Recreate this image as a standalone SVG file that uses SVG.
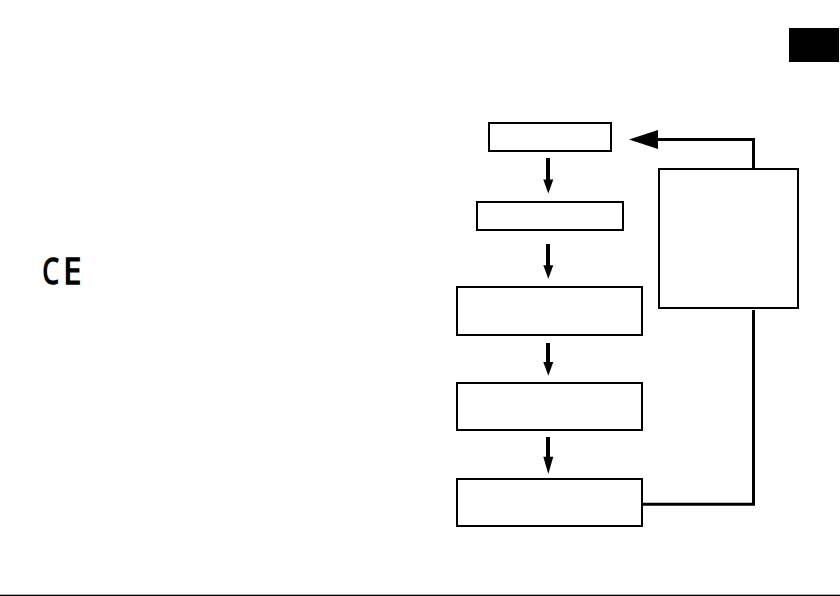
<svg xmlns="http://www.w3.org/2000/svg" width="840" height="596" viewBox="0 0 840 596">
<style>
.box{fill:#fff;stroke:#000;stroke-width:2}
.arrow{fill:none;stroke:#000;stroke-width:4}
.feedback{fill:none;stroke:#000;stroke-width:3}
.head{fill:#000}
.mark{font-family:"Open Sans","Liberation Sans",sans-serif;font-weight:400;font-size:36px;fill:#000;stroke:#000;stroke-width:1.6}
</style>
<rect width="840" height="596" fill="#fff"/>
<rect id="page-tab" x="789" y="28" width="50" height="34" fill="#000"/>
<rect id="footer-rule" x="0" y="594.7" width="840" height="1.3" fill="#000"/>
<g id="ce-mark">
<text class="mark" transform="translate(42.5 283.5) scale(0.72 1)">C</text>
<text class="mark" transform="translate(63.5 283.5) scale(0.88 1)">E</text>
</g>
<g id="connectors">
<path class="arrow" d="M548 158V180"/><path class="head" d="M543.3 179.5H553.3L548.3 193.5Z"/>
<path class="arrow" d="M548 244V266"/><path class="head" d="M543.3 265.3H553.3L548.3 278.7Z"/>
<path class="arrow" d="M548 343V363"/><path class="head" d="M543.3 362H553.3L548.3 375.7Z"/>
<path class="arrow" d="M548 437V457"/><path class="head" d="M543.3 456.7H553.3L548.3 474Z"/>
<path class="feedback" d="M643 504.3H753.5V310"/>
<path class="feedback" d="M753.5 169V139.5H657"/>
<path class="head" d="M658 130V149L629 139.5Z"/>
</g>
<g id="node-1"><rect class="box" x="489" y="123" width="122" height="28"/></g>
<g id="node-2"><rect class="box" x="477" y="202" width="146" height="28"/></g>
<g id="node-3"><rect class="box" x="457" y="287" width="185" height="48"/></g>
<g id="node-4"><rect class="box" x="457" y="383" width="185" height="47"/></g>
<g id="node-5"><rect class="box" x="457" y="479" width="185" height="47"/></g>
<g id="node-6"><rect class="box" x="659" y="169" width="139" height="139"/></g>
</svg>
